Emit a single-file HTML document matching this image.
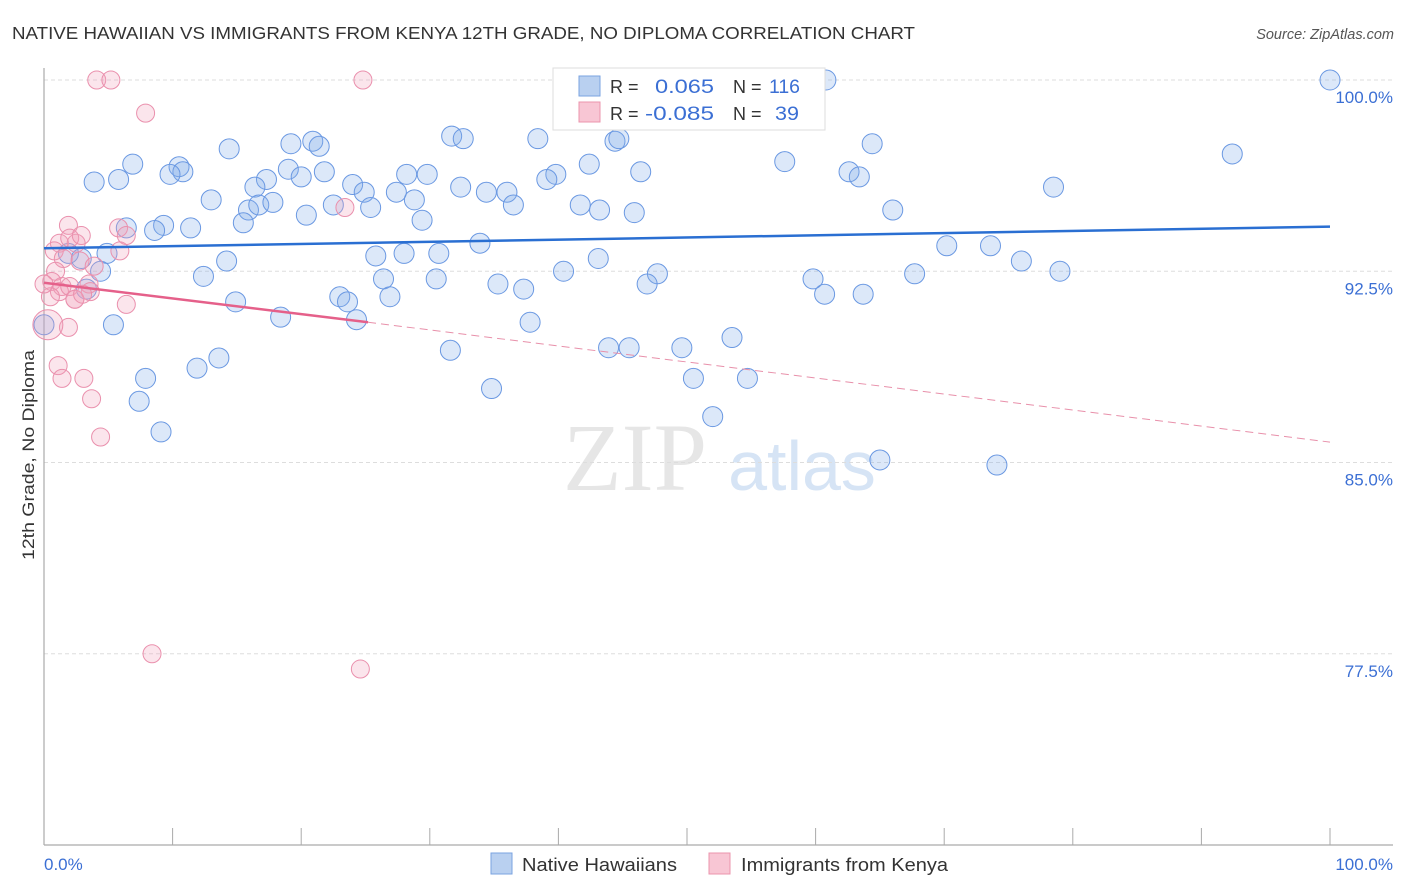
<!DOCTYPE html>
<html><head><meta charset="utf-8"><style>
body{margin:0;background:#fff;font-family:"Liberation Sans",sans-serif;}
svg{display:block}
</style></head><body>
<svg width="1406" height="892" viewBox="0 0 1406 892" xmlns="http://www.w3.org/2000/svg" id="chart">
<text x="12" y="39" font-size="17.5" fill="#333" textLength="903" lengthAdjust="spacingAndGlyphs">NATIVE HAWAIIAN VS IMMIGRANTS FROM KENYA 12TH GRADE, NO DIPLOMA CORRELATION CHART</text>
<text x="1394" y="39" font-size="14.5" fill="#555" font-style="italic" text-anchor="end">Source: ZipAtlas.com</text>
<g>
<text x="635" y="490" font-size="96" fill="#e6e6e6" font-family="Liberation Serif,serif" text-anchor="middle">ZIP</text>
<text x="802" y="490" font-size="70" fill="#d6e4f5" text-anchor="middle">atlas</text>
</g>
<g id="grid"></g>
<g id="yticks"></g>
<line x1="44" y1="68" x2="44" y2="845" stroke="#aaa" stroke-width="1.2"/>
<line x1="44" y1="845" x2="1393" y2="845" stroke="#aaa" stroke-width="1.2"/>
<g id="xticks"></g>
<text x="44" y="870" font-size="17" fill="#3b6fd4">0.0%</text>
<text x="1393" y="870" font-size="17" fill="#3b6fd4" text-anchor="end">100.0%</text>
<text transform="translate(34,455) rotate(-90)" font-size="17" fill="#333" text-anchor="middle" textLength="210" lengthAdjust="spacingAndGlyphs">12th Grade, No Diploma</text>
<g id="pts"></g>
<g id="trends"></g>
<g>
<rect x="553" y="68" width="272" height="62" fill="#fff" stroke="#ddd"/>
<rect x="579" y="76" width="21" height="20" fill="#b9d0f0" stroke="#7aa3e0"/>
<rect x="579" y="102" width="21" height="20" fill="#f8c6d4" stroke="#eb94ad"/>
<text x="610" y="93" font-size="18" fill="#333">R =</text><text x="655" y="93" font-size="19" fill="#3b6fd4" textLength="59" lengthAdjust="spacingAndGlyphs">0.065</text>
<text x="733" y="93" font-size="18" fill="#333">N =</text><text x="769" y="93" font-size="19" fill="#3b6fd4" textLength="31" lengthAdjust="spacingAndGlyphs">116</text>
<text x="610" y="120" font-size="18" fill="#333">R =</text><text x="645" y="120" font-size="19" fill="#3b6fd4" textLength="69" lengthAdjust="spacingAndGlyphs">-0.085</text>
<text x="733" y="120" font-size="18" fill="#333">N =</text><text x="775" y="120" font-size="19" fill="#3b6fd4" textLength="24" lengthAdjust="spacingAndGlyphs">39</text>
</g>
<g>
<rect x="491" y="853" width="21" height="21" fill="#b9d0f0" stroke="#7aa3e0"/>
<text x="522" y="871" font-size="18" fill="#333" textLength="155" lengthAdjust="spacingAndGlyphs">Native Hawaiians</text></g>
<g>
<rect x="709" y="853" width="21" height="21" fill="#f8c6d4" stroke="#eb94ad"/>
<text x="741" y="871" font-size="18" fill="#333" textLength="207" lengthAdjust="spacingAndGlyphs">Immigrants from Kenya</text></g>
</svg>
<script>
const yTicks=[100,92.5,85,77.5];
const yTickLabels=["100.0%","92.5%","85.0%","77.5%"];
const xTicks=[0,10,20,30,40,50,60,70,80,90,100];
const blueX=[42.1,59.8,60.8,100,31.7,32.6,38.4,44.4,44.7,19.2,20.9,21.4,14.4,92.4,64.4,57.6,42.4,6.9,10.5,10.8,19,9.8,5.8,3.9,17.3,16.4,20,21.8,28.2,29.8,39.8,46.4,39.1,62.6,63.4,24,24.9,32.4,34.4,36,27.4,28.8,36.5,78.5,13,15.9,16.7,17.8,22.5,25.4,41.7,43.2,45.9,66,15.5,20.4,29.4,9.3,11.4,6.4,8.6,33.9,70.2,73.6,1.9,2.9,4.9,25.8,28,30.7,14.2,43.1,76,4.4,12.4,26.4,30.5,40.4,47.7,79,67.7,35.3,37.3,46.9,59.8,3.3,23,23.6,26.9,60.7,63.7,14.9,18.4,24.3,37.8,5.4,53.5,43.9,45.5,49.6,31.6,13.6,11.9,7.9,50.5,54.7,34.8,7.4,52,9.1,65,74.1,0];
const blueY=[100,100,100,100,97.8,97.7,97.7,97.6,97.7,97.5,97.6,97.4,97.3,97.1,97.5,96.8,96.7,96.7,96.6,96.4,96.5,96.3,96.1,96,96.1,95.8,96.2,96.4,96.3,96.3,96.3,96.4,96.1,96.4,96.2,95.9,95.6,95.8,95.6,95.6,95.6,95.3,95.1,95.8,95.3,94.9,95.1,95.2,95.1,95,95.1,94.9,94.8,94.9,94.4,94.7,94.5,94.3,94.2,94.2,94.1,93.6,93.5,93.5,93.2,93,93.2,93.1,93.2,93.2,92.9,93,92.9,92.5,92.3,92.2,92.2,92.5,92.4,92.5,92.4,92,91.8,92,92.2,91.8,91.5,91.3,91.5,91.6,91.6,91.3,90.7,90.6,90.5,90.4,89.9,89.5,89.5,89.5,89.4,89.1,88.7,88.3,88.3,88.3,87.9,87.4,86.8,86.2,85.1,84.9,90.4];
const blueR=[10,10,10,10,10,10,10,10,10,10,10,10,10,10,10,10,10,10,10,10,10,10,10,10,10,10,10,10,10,10,10,10,10,10,10,10,10,10,10,10,10,10,10,10,10,10,10,10,10,10,10,10,10,10,10,10,10,10,10,10,10,10,10,10,10,10,10,10,10,10,10,10,10,10,10,10,10,10,10,10,10,10,10,10,10,10,10,10,10,10,10,10,10,10,10,10,10,10,10,10,10,10,10,10,10,10,10,10,10,10,10,10,10,10,18];
const pinkX=[4.1,5.2,24.8,7.9,23.4,5.8,1.9,1.2,2.5,2,2.9,6.4,5.9,0.8,1.5,2.8,3.9,0.9,0.6,1.4,1.2,2,3.5,2.4,3.6,0.5,6.4,1.9,1.1,1.4,3.1,3.7,4.4,8.4,24.6,0.3,2.4,3,0];
const pinkY=[100,100,100,98.7,95,94.2,94.3,93.6,93.6,93.8,93.9,93.9,93.3,93.3,93,92.9,92.7,92.5,92.1,91.9,91.7,91.9,92,91.4,91.7,91.5,91.2,90.3,88.8,88.3,88.3,87.5,86,77.5,76.9,90.4,91.4,91.6,92];
const pinkR=[9,9,9,9,9,9,9,9,9,9,9,9,9,9,9,9,9,9,9,9,9,9,9,9,9,9,9,9,9,9,9,9,9,9,9,15,9,9,9];
const blueTrend=[[0,93.4],[100,94.25]];
const pinkTrend=[[0,92.05],[25.2,90.5],[100,85.8]];
const X0=44,X1=1330,Y0=80,PXV=25.5;
const sx=v=>X0+(X1-X0)*v/100, sy=v=>Y0+(100-v)*PXV;
const NS="http://www.w3.org/2000/svg";
function mk(t,a,p){const e=document.createElementNS(NS,t);for(const k in a)e.setAttribute(k,a[k]);p.appendChild(e);return e;}
const grid=document.getElementById('grid'),yt=document.getElementById('yticks'),xt=document.getElementById('xticks');
yTicks.forEach((v,i)=>{
 const l=mk('line',{x1:44,x2:1393,y1:sy(v),y2:sy(v),stroke:'#ddd','stroke-dasharray':'4,3'},grid);
 
 
 const t=mk('text',{x:1393,y:sy(v)+23,'font-size':17,fill:'#3b6fd4','text-anchor':'end'},yt);
 t.textContent=yTickLabels[i];
 
 
});
xTicks.forEach(v=>{
 const l=mk('line',{x1:sx(v),x2:sx(v),y1:828,y2:845,stroke:'#aaa'},xt);
 
 
});
const pts=document.getElementById('pts');
blueX.forEach((v,i)=>{
 const c=mk('circle',{cx:sx(v),cy:sy(blueY[i]),r:blueR[i],fill:'rgba(130,172,232,0.28)',stroke:'#6a98e2','stroke-width':1},pts);
 
 
});
pinkX.forEach((v,i)=>{
 const c=mk('circle',{cx:sx(v),cy:sy(pinkY[i]),r:pinkR[i],fill:'rgba(242,160,188,0.28)',stroke:'#ea90ad','stroke-width':1},pts);
 
 
});
const tr=document.getElementById('trends');
const bl=mk('line',{x1:sx(blueTrend[0][0]),y1:sy(blueTrend[0][1]),x2:sx(blueTrend[1][0]),y2:sy(blueTrend[1][1]),stroke:'#2a6fd2','stroke-width':2.5},tr);


const pl=mk('line',{x1:sx(pinkTrend[0][0]),y1:sy(pinkTrend[0][1]),x2:sx(pinkTrend[1][0]),y2:sy(pinkTrend[1][1]),stroke:'#e5608a','stroke-width':2.5},tr);


const pd=mk('line',{x1:sx(pinkTrend[1][0]),y1:sy(pinkTrend[1][1]),x2:sx(pinkTrend[2][0]),y2:sy(pinkTrend[2][1]),stroke:'#e890aa','stroke-width':1,'stroke-dasharray':'8,5'},tr);


</script>
</body></html>
